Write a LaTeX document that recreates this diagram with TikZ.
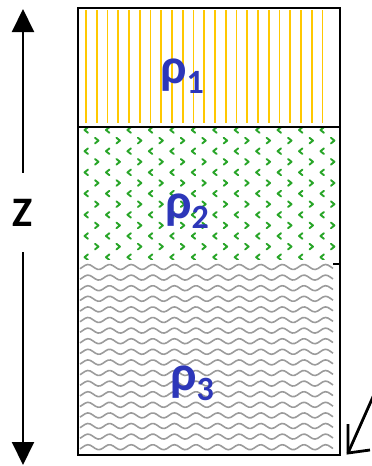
\documentclass[tikz,border=0pt]{standalone}
\usepackage{fontspec}
\setmainfont{Carlito}
\usetikzlibrary{arrows.meta}
\definecolor{rhoblue}{RGB}{45,55,185}
\definecolor{stripe}{RGB}{255,200,0}
\definecolor{dotgreen}{RGB}{40,165,40}
\definecolor{wavegray}{RGB}{155,155,155}
\begin{document}
\begin{tikzpicture}[x=1pt,y=-1pt,
  stripeline/.style={draw=stripe,line width=1.8pt},
  chev/.style={draw=dotgreen,line width=1.9pt,line cap=round,line join=round},
  waveline/.style={draw=wavegray,line width=1.6pt},
  frame/.style={draw=black,line width=2pt},
  axisline/.style={draw=black,line width=2pt,-{Triangle[length=23pt,width=22pt]}},
  pointer/.style={draw=black,line width=2.8pt,line join=miter},
  rho/.style={text=rhoblue,inner sep=0pt,anchor=base west,font=\fontsize{50}{50}\selectfont\bfseries},
  zlabel/.style={inner sep=0pt,minimum height=79pt,font=\fontsize{42}{42}\selectfont\bfseries}]
\useasboundingbox (0,0) rectangle (372,466);
% layer 1: yellow vertical stripes
\foreach \i in {0,...,22}
  \draw[stripeline] ({86+\i*10.75},10) -- ({86+\i*10.75},123);
% layer 2: green chevrons
\begin{scope}
  \clip (79,128) rectangle (339,259);
  \foreach \r in {0,2,...,12}
    \foreach \c in {0,...,11}
      \draw[chev] ({86+\c*21.45+2},{130+\r*10.6-2.8}) -- ++(-3.5,2.8) -- ++(3.5,2.8);
  \foreach \r in {1,3,...,11}
    \foreach \c in {0,...,11}
      \draw[chev] ({97+\c*21.45-2},{130+\r*10.6-2.8}) -- ++(3.5,2.8) -- ++(-3.5,2.8);
\end{scope}
% layer 3: grey waves
\foreach \k in {0,...,17}
  \draw[waveline] plot[domain=80:333,samples=100,smooth] (\x,{267+\k*10.6-2.5*cos((\x-88)*16.667)});
% frame
\draw[frame] (78,8) rectangle (340,455);
\draw[frame] (78,126.5) -- (340,126.5);
\draw[draw=black,line width=1.5pt] (333,264) -- (340,264);
% labels
\node[rho] (r1) at (160,83) {ρ\raisebox{-10pt}{\fontsize{34}{34}\selectfont 1}};
\node[rho] (r2) at (165,218) {ρ\raisebox{-10pt}{\fontsize{34}{34}\selectfont 2}};
\node[rho] (r3) at (170,390) {ρ\raisebox{-10pt}{\fontsize{34}{34}\selectfont 3}};
% z axis
\node[zlabel] (z) at (23,212.5) {Z};
\coordinate (ztop) at (23,9);
\coordinate (zbot) at (23,465);
\draw[axisline] (z.north) -- (ztop);
\draw[axisline] (z.south) -- (zbot);
% pointer arrow
\coordinate (ptail) at (376,390);
\coordinate (ptip) at (348,453);
\coordinate (armA) at (348,424);
\coordinate (armB) at (370,450);
\draw[pointer] (ptail) -- (ptip);
\draw[pointer] (armA) -- (ptip) -- (armB);
\end{tikzpicture}
\end{document}
